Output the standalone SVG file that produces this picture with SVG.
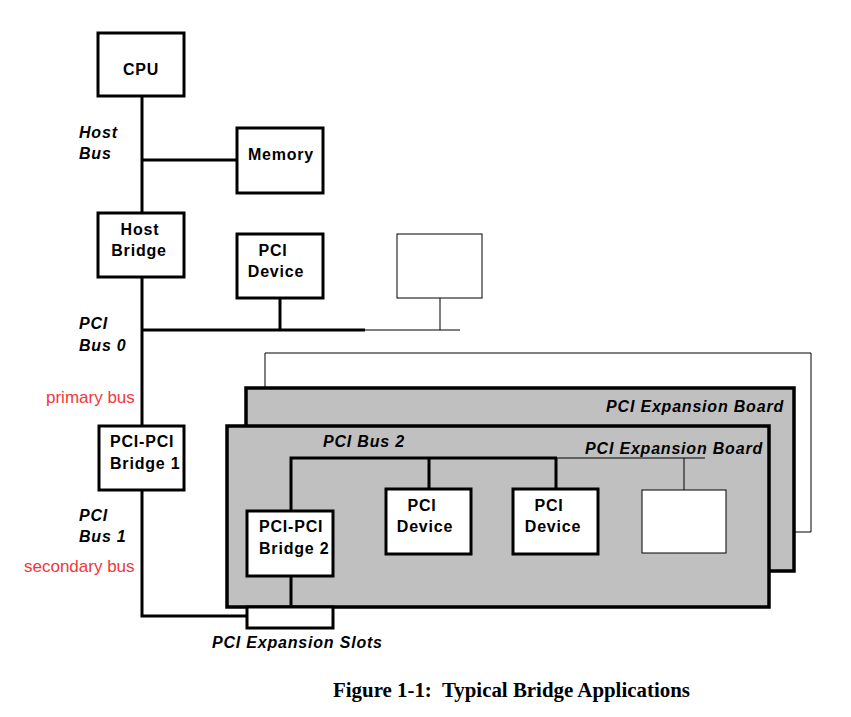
<svg xmlns="http://www.w3.org/2000/svg" width="851" height="717" viewBox="0 0 851 717">
<style>
.box{fill:#fff;stroke:#000;stroke-width:3}
.thin{fill:#fff;stroke:#000;stroke-width:1}
.board{fill:#c0c0c0;stroke:#000;stroke-width:3.5}
.bus{stroke:#000;stroke-width:3;fill:none}
.tbus{stroke:#000;stroke-width:1;fill:none}
.t{font-family:"Liberation Sans",Arial,sans-serif;font-weight:bold;font-size:16px;letter-spacing:0.8px;fill:#000}
.i{font-family:"Liberation Sans",Arial,sans-serif;font-weight:bold;font-style:italic;font-size:16px;letter-spacing:0.8px;fill:#000}
.r{font-family:"Liberation Sans",Arial,sans-serif;font-size:17px;fill:#f0383c}
.cap{font-family:"Liberation Serif","Times New Roman",serif;font-weight:bold;font-size:20.9px;fill:#000;white-space:pre}
</style>
<rect width="851" height="717" fill="#fff"/>
<g id="third-board-outline">
<path class="tbus" d="M265,387 V353 H811 V532 H795"/>
</g>
<g id="board-back">
<rect class="board" x="246" y="388" width="548" height="183"/>
<text class="i" x="784" y="412" text-anchor="end">PCI Expansion Board</text>
</g>
<g id="board-front">
<rect class="board" x="227" y="426" width="542" height="181"/>
<text class="i" x="763" y="454" text-anchor="end">PCI Expansion Board</text>
<text class="i" x="323" y="447">PCI Bus 2</text>
</g>
<g id="connectors">
<path class="bus" d="M142,96 V213"/>
<path class="bus" d="M142,160 H237"/>
<path class="bus" d="M142,277 V426"/>
<path class="bus" d="M142,330 H365"/>
<path class="tbus" d="M365,330 H460"/>
<path class="bus" d="M280,298 V330"/>
<path class="tbus" d="M440,298 V330"/>
<path class="bus" d="M142,490 V616 H247"/>
<path class="bus" d="M291,511 V458 H557"/>
<path class="tbus" d="M557,458 H705"/>
<path class="bus" d="M429,458 V489"/>
<path class="bus" d="M556,458 V489"/>
<path class="tbus" d="M684,458 V490"/>
<path class="bus" d="M291,576 V607"/>
</g>
<g id="cpu">
<rect class="box" x="98" y="33" width="86" height="63"/>
<text class="t" x="141" y="75" text-anchor="middle">CPU</text>
</g>
<g id="memory">
<rect class="box" x="237" y="128" width="86" height="65"/>
<text class="t" x="281" y="160" text-anchor="middle">Memory</text>
</g>
<g id="host-bridge">
<rect class="box" x="98" y="213" width="86" height="64"/>
<text class="t" x="140" y="235" text-anchor="middle">Host</text>
<text class="t" x="139" y="256" text-anchor="middle">Bridge</text>
</g>
<g id="pci-device-0">
<rect class="box" x="237" y="234" width="86" height="64"/>
<text class="t" x="273" y="256" text-anchor="middle">PCI</text>
<text class="t" x="276" y="277" text-anchor="middle">Device</text>
</g>
<g id="empty-device-0">
<rect class="thin" x="397" y="234" width="85" height="64"/>
</g>
<g id="pci-pci-bridge-1">
<rect class="box" x="99" y="426" width="85" height="64"/>
<text class="t" x="110" y="447">PCI-PCI</text>
<text class="t" x="110" y="469">Bridge 1</text>
</g>
<g id="pci-pci-bridge-2">
<rect class="box" x="247" y="511" width="86" height="65"/>
<text class="t" x="259" y="532">PCI-PCI</text>
<text class="t" x="259" y="554">Bridge 2</text>
</g>
<g id="pci-device-1">
<rect class="box" x="386" y="489" width="85" height="65"/>
<text class="t" x="422" y="511" text-anchor="middle">PCI</text>
<text class="t" x="425" y="532" text-anchor="middle">Device</text>
</g>
<g id="pci-device-2">
<rect class="box" x="513" y="489" width="85" height="65"/>
<text class="t" x="549" y="511" text-anchor="middle">PCI</text>
<text class="t" x="553" y="532" text-anchor="middle">Device</text>
</g>
<g id="empty-device-2">
<rect class="thin" x="642" y="490" width="84" height="63" stroke="#555"/>
</g>
<g id="expansion-slot">
<rect class="box" x="247" y="607" width="86" height="21"/>
<text class="i" x="212" y="648">PCI Expansion Slots</text>
</g>
<g id="labels">
<text class="i" x="79" y="138">Host</text>
<text class="i" x="79" y="159">Bus</text>
<text class="i" x="79" y="329">PCI</text>
<text class="i" x="79" y="351">Bus 0</text>
<text class="r" x="46" y="403">primary bus</text>
<text class="i" x="79" y="521">PCI</text>
<text class="i" x="79" y="542">Bus 1</text>
<text class="r" x="24" y="572">secondary bus</text>
<text class="cap" x="333" y="697" xml:space="preserve">Figure 1-1:  Typical Bridge Applications</text>
</g>
</svg>
